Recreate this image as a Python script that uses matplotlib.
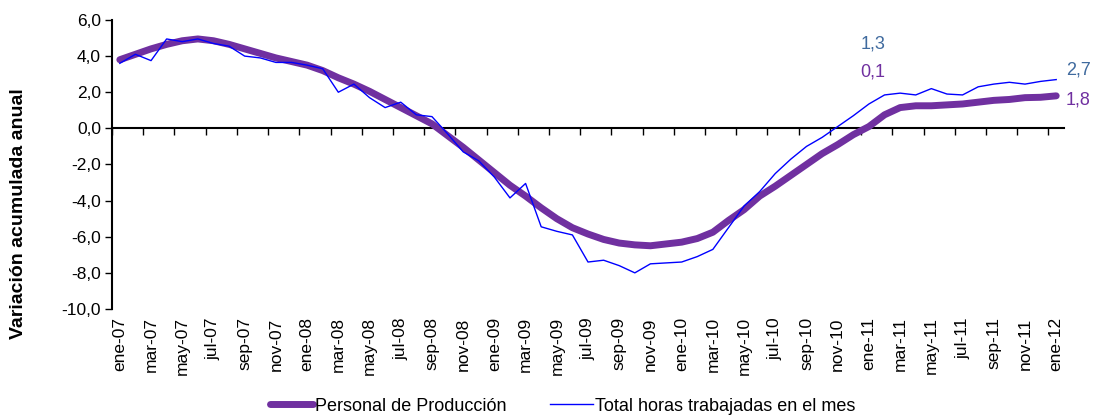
import matplotlib.pyplot as plt
from matplotlib.ticker import FuncFormatter

plt.rcParams['font.family'] = ['Liberation Sans', 'DejaVu Sans']

years = ['07', '08', '09', '10', '11']
months = ['ene', 'feb', 'mar', 'abr', 'may', 'jun', 'jul', 'ago', 'sep', 'oct', 'nov', 'dic']
meses = [m + '-' + y for y in years for m in months] + ['ene-12']

personal = [3.8, 4.1, 4.4, 4.65, 4.85, 4.95, 4.85, 4.65, 4.4, 4.15, 3.9, 3.7,
            3.5, 3.2, 2.8, 2.45, 2.05, 1.6, 1.15, 0.7, 0.25, -0.4, -1.05, -1.75,
            -2.45, -3.15, -3.75, -4.4, -5.0, -5.5, -5.85, -6.15, -6.35, -6.45, -6.5, -6.4,
            -6.3, -6.1, -5.75, -5.1, -4.5, -3.75, -3.2, -2.6, -2.0, -1.4, -0.9, -0.35,
            0.1, 0.75, 1.15, 1.25, 1.25, 1.3, 1.35, 1.45, 1.55, 1.6, 1.7, 1.72,
            1.8]

horas = [3.6, 4.1, 3.75, 4.95, 4.8, 4.95, 4.7, 4.55, 4.0, 3.9, 3.65, 3.65,
         3.5, 3.3, 2.0, 2.45, 1.7, 1.15, 1.45, 0.75, 0.65, -0.3, -1.3, -1.8,
         -2.7, -3.85, -3.05, -5.45, -5.7, -5.9, -7.4, -7.3, -7.6, -8.0, -7.5, -7.45,
         -7.4, -7.1, -6.7, -5.5, -4.3, -3.5, -2.5, -1.7, -1.0, -0.5, 0.1, 0.7,
         1.35, 1.85, 1.95, 1.85, 2.2, 1.9, 1.85, 2.3, 2.45, 2.55, 2.45, 2.6,
         2.7]

purple = '#7030A0'
blue = '#0000FF'
label_blue = '#3F6A9E'

x = list(range(len(meses)))
ymin, ymax = -10, 6

fig = plt.figure(figsize=(10.95, 4.18), dpi=100)
ax = fig.add_axes([0.1023, 0.2608, 0.8694, 0.6914])

ax.plot(x, personal, color=purple, lw=5, solid_capstyle='round', label='Personal de Producción')
ax.plot(x, horas, color=blue, lw=1, label='Total horas trabajadas en el mes')

ax.set_xlim(-0.5, len(meses) - 0.5)
ax.set_ylim(ymin, ymax)
ax.set_yticks(range(ymin, ymax + 1, 2))
ax.yaxis.set_major_formatter(FuncFormatter(lambda v, p: f'{v:.1f}'.replace('.', ',')))
ax.tick_params(axis='y', direction='out', length=5, width=1, labelsize=12.5, pad=3)

ax.set_xticks(x[::2])
ax.set_xticklabels(meses[::2], rotation=90, fontsize=12.5)
ax.tick_params(axis='x', length=0, pad=6)

for s in ['top', 'right', 'bottom']:
    ax.spines[s].set_visible(False)
ax.spines['left'].set_linewidth(1.5)

# eje horizontal en cero con marcas entre categorias
sec = ax.secondary_xaxis((0 - ymin) / (ymax - ymin))
sec.set_alignment('bottom')
sec.set_xticks([i - 0.5 for i in x[::2]])
sec.set_xticklabels([])
sec.tick_params(direction='out', length=5, width=1)
sec.spines['bottom'].set_linewidth(1.5)

ax.set_ylabel('Variación acumulada anual', fontsize=14, fontweight='bold')
ax.yaxis.set_label_coords(-0.089, 0.33)

ax.annotate('1,3', xy=(48, horas[48]), xytext=(4, 60), textcoords='offset pixels',
            color=label_blue, fontsize=13, ha='center', va='center')
ax.annotate('0,1', xy=(48, personal[48]), xytext=(4, 55), textcoords='offset pixels',
            color=purple, fontsize=13, ha='center', va='center')
ax.annotate('2,7', xy=(60, horas[60]), xytext=(22, 10), textcoords='offset pixels',
            color=label_blue, fontsize=13, ha='center', va='center', annotation_clip=False)
ax.annotate('1,8', xy=(60, personal[60]), xytext=(22, -4), textcoords='offset pixels',
            color=purple, fontsize=13, ha='center', va='center', annotation_clip=False)

fig.legend(loc='center', bbox_to_anchor=(0.514, 0.028), ncol=2, frameon=False,
           fontsize=13, handlelength=2.4, handletextpad=0.1, columnspacing=2.4)

fig.savefig('out.png', dpi=100)
